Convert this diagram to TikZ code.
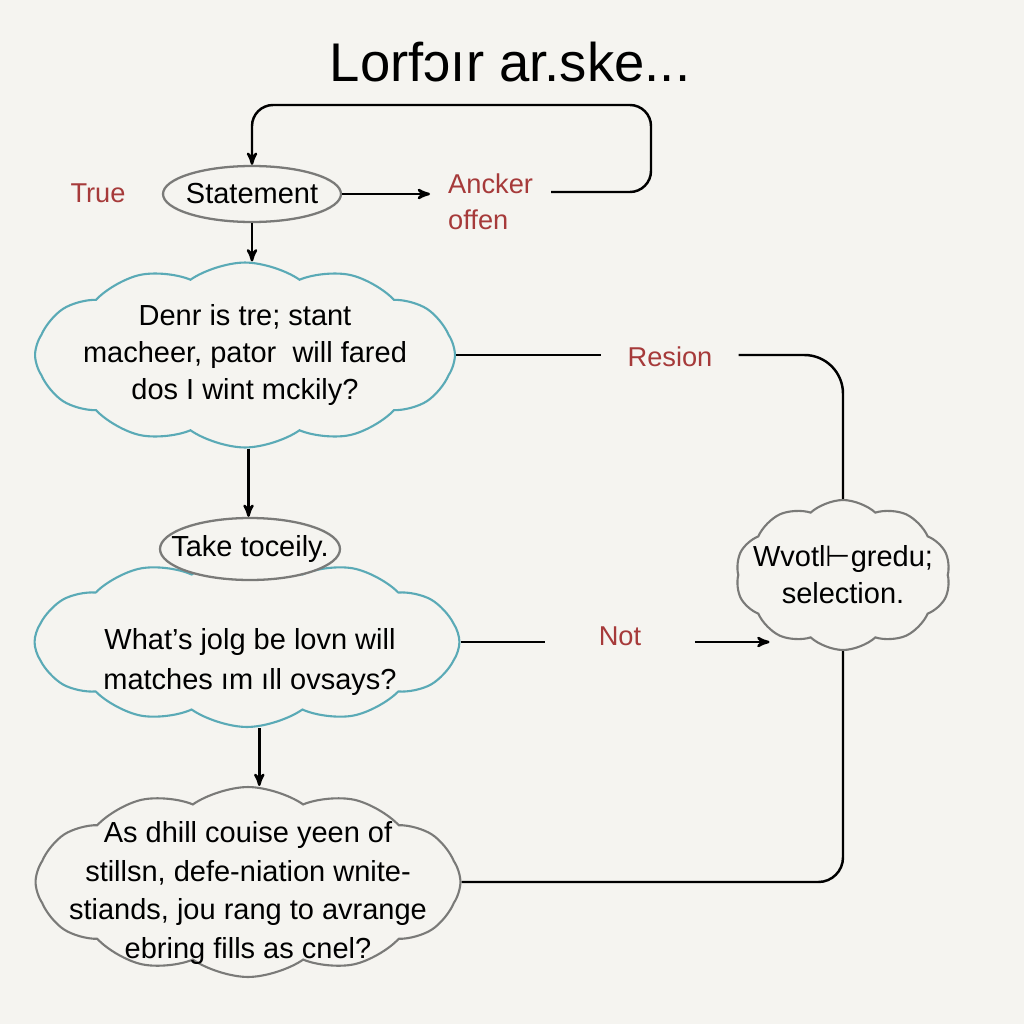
\documentclass[tikz,border=0pt]{standalone}
\usepackage{fontspec}
\setmainfont{Liberation Sans}
\newfontfamily\symfont{DejaVu Sans}
\usepackage{tikz}
\usetikzlibrary{arrows,shapes.symbols,shapes.geometric,positioning}
\definecolor{bgcol}{HTML}{F5F4F0}
\definecolor{teal}{HTML}{5AAAB6}
\definecolor{rim}{HTML}{7A7A78}
\definecolor{redtext}{HTML}{A63A3A}

\begin{document}
\begin{tikzpicture}[x=0.02cm,y=-0.02cm,>=stealth',line width=1.4pt]
  \tikzstyle{every node}=[font=\fontsize{16.5}{21}\selectfont]
  \tikzstyle{oval}=[ellipse,draw=rim,line width=1.3pt,fill=bgcol,inner xsep=-0.2cm,inner ysep=0.1cm]
  \tikzstyle{puff}=[cloud,cloud puffs=12,cloud puff arc=70,cloud ignores aspect,draw,line width=1.2pt,fill=bgcol,inner sep=0pt]
  \tikzstyle{tealpuff}=[puff,draw=teal]
  \tikzstyle{graypuff}=[puff,draw=rim]
  \tikzstyle{lbl}=[text=redtext,font=\fontsize{15.5}{20.5}\selectfont]
  \tikzstyle{qtext}=[align=center,text=black]
\useasboundingbox (0,0) rectangle (1024,1024);
\fill[bgcol] (0,0) rectangle (1024,1024);
\node (title) at (510,62) {\fontsize{31}{36}\selectfont Lorfɔır ar.ske...};
\node[oval,minimum width=3.56cm,minimum height=1.12cm] (st) at (252,194) {Statement};
\node[lbl] (true) at (98,193) {True};
\node[lbl,align=left,anchor=west,inner xsep=0.34cm] (ancker) at (430,202) {Ancker\\offen};
\coordinate (loop) at (651,105);
\node[tealpuff,minimum width=8.4cm,minimum height=3.7cm] (q1) at (245,355) {};
\node[qtext] (q1t) at (q1) {Denr is tre; stant\\macheer, pator\ \ will fared\\dos I wint mckily?};
\node[lbl,inner xsep=0.5cm] (resion) at (670,357) {Resion};
\node[graypuff,cloud puffs=10,cloud puff arc=85,minimum width=4.3cm,minimum height=3.0cm] (sel) at (843,575) {};
\node[qtext] (selt) at (sel) {Wvotl{\symfont ⊢}gredu;\\selection.};
\node[tealpuff,minimum width=8.5cm,minimum height=3.4cm] (q2) at (247,642) {};
\node[qtext,font=\fontsize{16.5}{23}\selectfont] (q2t) at (250,662) {What's jolg be lovn will\\matches ım ıll ovsays?};
\node[oval,inner xsep=-0.32cm,minimum width=3.6cm,minimum height=1.24cm] (take) at (250,549) {Take toceily.};
\node[lbl,inner xsep=1.05cm] (not) at (620,636) {Not};
\node[graypuff,minimum width=8.5cm,minimum height=3.8cm] (q3) at (248,882) {};
\node[qtext,font=\fontsize{16.5}{22}\selectfont] (q3t) at (248,893) {As dhill couise yeen of\\stillsn, defe-niation wnite-\\stiands, jou rang to avrange\\ebring fills as cnel?};
\draw[->,rounded corners=12pt] (ancker.east) ++(0,-10) -| (loop) -| (st.north);
\draw[->] (st.east) -- (st.east -| ancker.west);
\draw[->] (st.south) -- (st.south |- q1.north);
\draw (q1.east) -- (q1.east -| resion.west);
\draw[rounded corners=22pt] (resion.east |- q1.east) -| (sel.north);
\draw[->] ([xshift=2pt]q1.south) -- ([xshift=2pt]q1.south |- take.north);
\draw (q2.east) -- (q2.east -| not.west);
\draw[->] (not.east |- q2.east) -- (sel.217 |- q2.east);
\draw[->] ([xshift=7pt]q2.south) -- ([xshift=7pt]q2.south |- q3.north);
\draw[rounded corners=14pt] (sel.south) |- (q3.east);
\end{tikzpicture}
\end{document}
